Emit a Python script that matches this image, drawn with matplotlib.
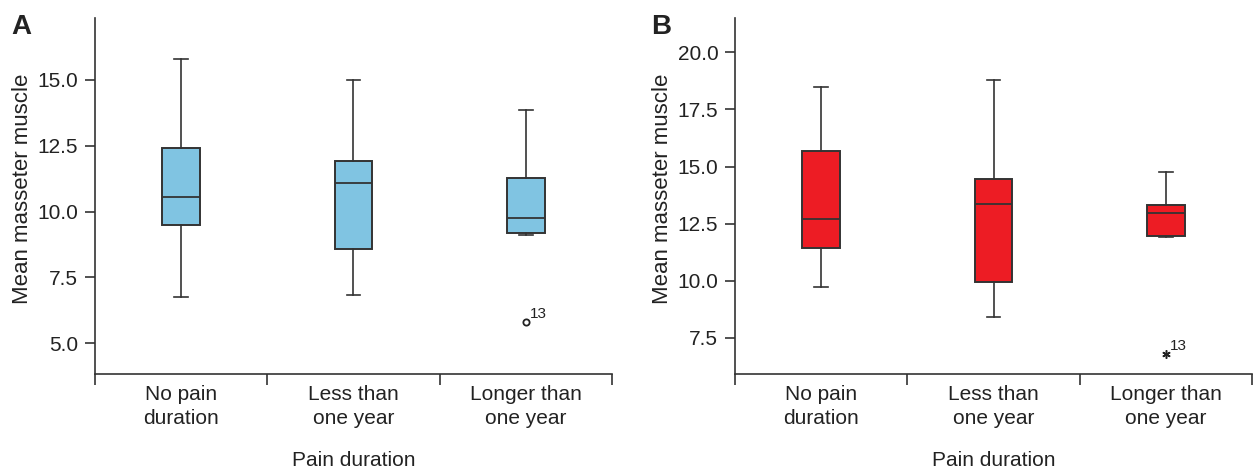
"""
Box plots of mean masseter muscle by pain duration (panels A and B)
"""

import matplotlib
import matplotlib.pyplot as plt
matplotlib.use("AGG")

plt.rcParams['font.family'] = ['Liberation Sans', 'DejaVu Sans']

categories = ['No pain\nduration', 'Less than\none year', 'Longer than\none year']

# panel A
a_whislo = [6.74, 6.82, 9.10]
a_q1 = [9.47, 8.56, 9.17]
a_med = [10.57, 11.10, 9.77]
a_q3 = [12.42, 11.93, 11.29]
a_whishi = [15.80, 15.00, 13.86]
a_outlier = 5.80

# panel B
b_whislo = [9.74, 8.42, 11.93]
b_q1 = [11.45, 9.96, 11.97]
b_med = [12.72, 13.38, 12.98]
b_q3 = [15.66, 14.47, 13.33]
b_whishi = [18.50, 18.77, 14.74]
b_outlier = 6.80

a_ticks = [5.0, 7.5, 10.0, 12.5, 15.0]
b_ticks = [7.5, 10.0, 12.5, 15.0, 17.5, 20.0]

fig = plt.figure(figsize=(12.53, 4.73), dpi=100)
axA = fig.add_axes([0.0758, 0.2093, 0.4126, 0.7527])
axB = fig.add_axes([0.5866, 0.2093, 0.4126, 0.7527])


def draw_panel(ax, lo, q1, med, q3, hi, outlier, marker, color, ylim, ticks, letter):
    stats = []
    for i in range(3):
        stats.append(dict(whislo=lo[i], q1=q1[i], med=med[i], q3=q3[i],
                          whishi=hi[i], fliers=[]))
    ax.bxp(stats, positions=[1, 2, 3], widths=0.22, patch_artist=True,
           showfliers=False,
           boxprops=dict(facecolor=color, edgecolor='#333333', linewidth=1.4),
           medianprops=dict(color='#333333', linewidth=1.3),
           whiskerprops=dict(color='#333333', linewidth=1.2),
           capprops=dict(color='#333333', linewidth=1.2),
           capwidths=0.08)
    # outlier for case 13
    if marker == 'o':
        ax.plot(3, outlier, marker='o', ms=4.5, mfc='white', mec='#222222',
                mew=1.3, linestyle='none')
    else:
        ax.plot(3, outlier, marker=(6, 2, 0), ms=6, mec='#222222',
                mew=1.1, linestyle='none')
    ax.annotate('13', (3, outlier), xytext=(3, 1), textcoords='offset points',
                fontsize=11, color='#222222', va='bottom', ha='left')

    ax.set_xlim(0.5, 3.5)
    ax.set_ylim(*ylim)
    ax.set_yticks(ticks)
    ax.set_yticklabels(['{:.1f}'.format(t) for t in ticks])
    ax.set_xticks([1, 2, 3])
    ax.set_xticklabels(categories, fontsize=15, color='#222222', linespacing=1.35)
    ax.tick_params(axis='x', length=0, pad=8)
    ax.set_xticks([0.5, 1.5, 2.5, 3.5], minor=True)
    ax.tick_params(axis='x', which='minor', length=8, width=1.2, color='#333333')
    ax.tick_params(axis='y', length=7, width=1.2, color='#333333', pad=5,
                   labelsize=15, labelcolor='#222222')

    for side in ['top', 'right']:
        ax.spines[side].set_visible(False)
    for side in ['left', 'bottom']:
        ax.spines[side].set_linewidth(1.2)
        ax.spines[side].set_color('#333333')

    ax.set_ylabel('Mean masseter muscle', fontsize=16, color='#222222')
    ax.yaxis.set_label_coords(-0.12, 0.52)
    ax.set_xlabel('Pain duration', fontsize=15, color='#222222', labelpad=16)
    ax.text(-0.162, 1.01, letter, transform=ax.transAxes, fontsize=20,
            fontweight='bold', va='top', ha='left', color='#222222')


draw_panel(axA, a_whislo, a_q1, a_med, a_q3, a_whishi, a_outlier, 'o',
           '#80C4E2', (3.83, 17.35), a_ticks, 'A')
draw_panel(axB, b_whislo, b_q1, b_med, b_q3, b_whishi, b_outlier, '*',
           '#ED1C24', (5.92, 21.5), b_ticks, 'B')

plt.savefig('out.png', dpi=100)
